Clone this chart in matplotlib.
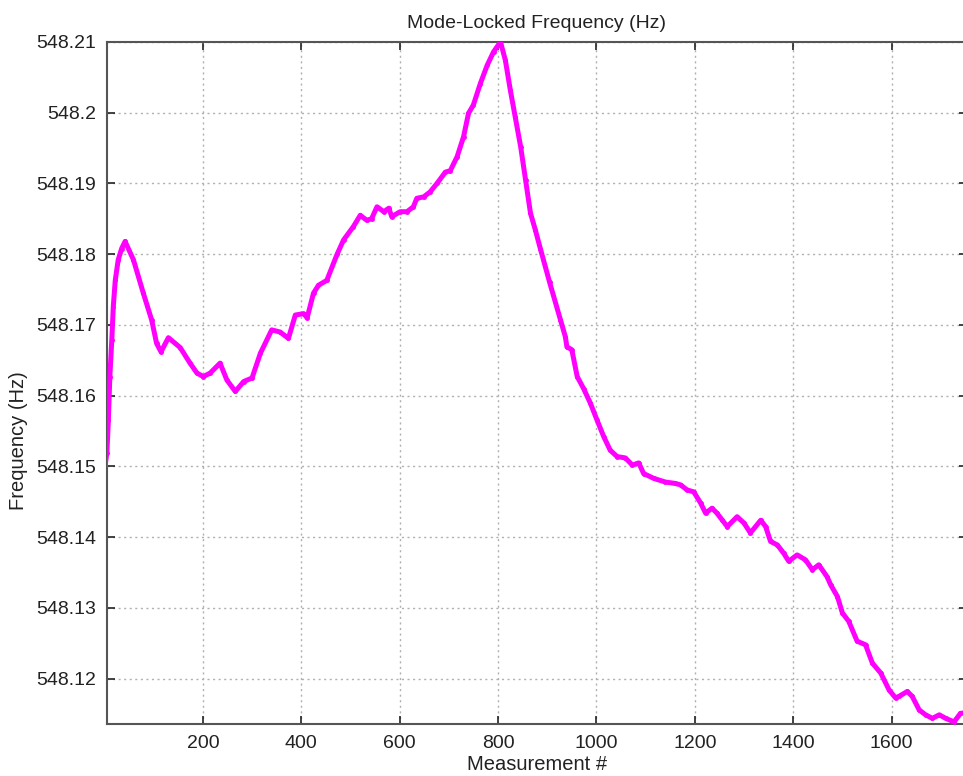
import matplotlib
matplotlib.use('Agg')
import matplotlib.pyplot as plt

plt.rcParams['font.family'] = ['Liberation Sans', 'DejaVu Sans']

measurement = [1, 5, 8, 11, 15, 18, 22, 28, 35, 42, 59, 79, 96, 106, 115,
               130, 154, 174, 188, 201, 215, 235, 249, 266, 283, 300, 317,
               340, 357, 374, 388, 405, 412, 425, 435, 452, 473, 486, 506,
               520, 533, 543, 554, 568, 578, 584, 601, 615, 628, 635, 649,
               662, 676, 693, 703, 717, 730, 740, 750, 764, 778, 791, 805,
               815, 825, 835, 846, 856, 866, 876, 886, 905, 927, 937, 940,
               950, 961, 974, 988, 1001, 1015, 1028, 1042, 1059, 1073, 1086,
               1096, 1117, 1140, 1160, 1171, 1184, 1198, 1212, 1222, 1235,
               1245, 1256, 1266, 1286, 1300, 1313, 1334, 1344, 1354, 1368,
               1381, 1391, 1408, 1425, 1439, 1452, 1469, 1476, 1490, 1500,
               1513, 1530, 1547, 1561, 1578, 1595, 1608, 1615, 1632, 1642,
               1656, 1669, 1683, 1697, 1710, 1727, 1740, 1750]
frequency = [548.1500, 548.1519, 548.1566, 548.1627, 548.1679, 548.1726,
             548.1763, 548.1792, 548.1808, 548.1818, 548.1792, 548.1745,
             548.1707, 548.1674, 548.1662, 548.1682, 548.1668, 548.1646,
             548.1632, 548.1627, 548.1632, 548.1646, 548.1622, 548.1606,
             548.1620, 548.1625, 548.1660, 548.1693, 548.1690, 548.1681,
             548.1714, 548.1716, 548.1710, 548.1745, 548.1756, 548.1763,
             548.1800, 548.1820, 548.1839, 548.1855, 548.1848, 548.1850,
             548.1867, 548.1860, 548.1865, 548.1853, 548.1860, 548.1860,
             548.1867, 548.1879, 548.1881, 548.1888, 548.1900, 548.1916,
             548.1918, 548.1938, 548.1966, 548.1999, 548.2011, 548.2041,
             548.2067, 548.2086, 548.2100, 548.2074, 548.2032, 548.1994,
             548.1952, 548.1905, 548.1858, 548.1834, 548.1808, 548.1760,
             548.1707, 548.1683, 548.1669, 548.1665, 548.1627, 548.1610,
             548.1589, 548.1566, 548.1542, 548.1523, 548.1514, 548.1512,
             548.1502, 548.1505, 548.1490, 548.1483, 548.1478, 548.1476,
             548.1474, 548.1467, 548.1464, 548.1448, 548.1434, 548.1441,
             548.1434, 548.1424, 548.1415, 548.1429, 548.1420, 548.1406,
             548.1424, 548.1415, 548.1394, 548.1389, 548.1377, 548.1366,
             548.1375, 548.1368, 548.1354, 548.1361, 548.1344, 548.1333,
             548.1316, 548.1293, 548.1281, 548.1253, 548.1248, 548.1222,
             548.1208, 548.1184, 548.1173, 548.1175, 548.1182, 548.1175,
             548.1156, 548.1149, 548.1144, 548.1149, 548.1144, 548.1139,
             548.1151, 548.1152]

x_ticks = [200, 400, 600, 800, 1000, 1200, 1400, 1600]
y_ticks = [548.12, 548.13, 548.14, 548.15, 548.16, 548.17, 548.18, 548.19,
           548.20, 548.21]
y_tick_labels = ['548.12', '548.13', '548.14', '548.15', '548.16', '548.17',
                 '548.18', '548.19', '548.2', '548.21']

fig = plt.figure(figsize=(9.63, 7.76), dpi=100)
# right edge runs just past the picture, as in the cropped screenshot
ax = fig.add_axes([0.111, 0.067, 0.893, 0.879])

ax.plot(measurement, frequency, color='#3050ff', linewidth=0.8, zorder=2)
ax.plot(measurement, frequency, color='#ff00ff', linewidth=3.6,
        marker='.', markersize=5, solid_capstyle='round', zorder=3)

ax.set_xlim(5, 1753)
ax.set_ylim(548.1136, 548.21)
ax.set_xticks(x_ticks)
ax.set_yticks(y_ticks)
ax.set_yticklabels(y_tick_labels)
ax.tick_params(direction='in', length=6, width=1.2, colors='#222222',
               labelsize=14, pad=8, top=True, right=True)
ax.grid(True, linestyle=(0, (1.5, 2.5)), color='#b0b0b0', linewidth=1.0)
for s in ax.spines.values():
    s.set_color('#555555')
    s.set_linewidth(1.5)

ax.set_title('Mode-Locked Frequency (Hz)', fontsize=14, color='#222222', pad=10)
ax.set_xlabel('Measurement #', fontsize=14.5, color='#222222', labelpad=2)
ax.set_ylabel('Frequency (Hz)', fontsize=14.5, color='#222222')
ax.yaxis.set_label_coords(-0.092, 0.415)

fig.savefig('out.png', dpi=100)
